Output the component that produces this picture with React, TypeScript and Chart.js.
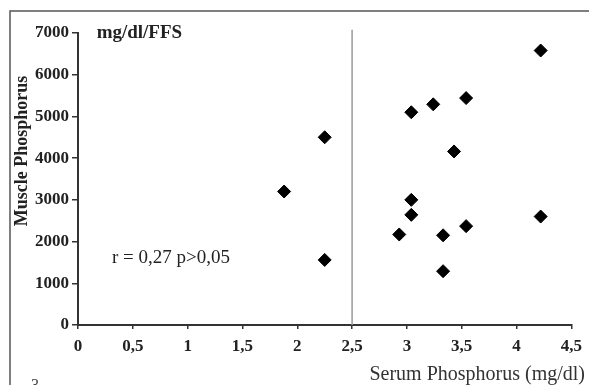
import React, { useEffect, useRef } from "react";
import { Chart, registerables } from "chart.js";

Chart.register(...registerables);

const serumPhosphorus = [4.22, 3.54, 3.24, 3.04, 2.25, 3.43, 1.88, 2.25, 3.04, 3.04, 2.93, 3.33, 3.54, 4.22, 3.33];
const musclePhosphorus = [6580, 5440, 5290, 5100, 4500, 4160, 3200, 1560, 3000, 2640, 2170, 2150, 2370, 2600, 1290];
const cutoffX = [2.5, 2.5];
const cutoffY = [0, 7080];
const xTicks = [0, 0.5, 1, 1.5, 2, 2.5, 3, 3.5, 4, 4.5];
const yTicks = [0, 1000, 2000, 3000, 4000, 5000, 6000, 7000];
const xTitle = "Serum Phosphorus (mg/dl)";
const yTitle = "Muscle Phosphorus";
const unitLabel = "mg/dl/FFS";
const statLabel = "r = 0,27 p>0,05";
const figNumber = "3";

const SERIF = "'Liberation Serif', 'Times New Roman', serif";

export default function App() {
  const ref = useRef<HTMLCanvasElement | null>(null);

  useEffect(() => {
    if (!ref.current) return;

    const textPlugin = {
      id: "texts",
      beforeDraw(chart: any) {
        const ctx = chart.ctx;
        ctx.save();
        ctx.fillStyle = "#ffffff";
        ctx.fillRect(0, 0, chart.width, chart.height);
        // frame
        ctx.strokeStyle = "#555";
        ctx.lineWidth = 1.5;
        ctx.beginPath();
        ctx.moveTo(10, chart.height);
        ctx.lineTo(10, 11);
        ctx.lineTo(chart.width, 11);
        ctx.stroke();
        ctx.restore();
      },
      afterDraw(chart: any) {
        const ctx = chart.ctx;
        const xs = chart.scales.x;
        const ys = chart.scales.y;
        ctx.save();
        ctx.fillStyle = "#222";
        ctx.textBaseline = "middle";
        ctx.textAlign = "left";
        ctx.font = `bold 19px ${SERIF}`;
        ctx.fillText(unitLabel, xs.getPixelForValue(0.17), ys.getPixelForValue(7000));
        ctx.font = `19px ${SERIF}`;
        ctx.fillText(statLabel, xs.getPixelForValue(0.31), ys.getPixelForValue(1600));
        // x title
        ctx.textAlign = "right";
        ctx.fillStyle = "#333";
        ctx.font = `20px ${SERIF}`;
        ctx.fillText(xTitle, chart.width - 4, chart.height - 10);
        // y title
        ctx.save();
        ctx.translate(22, ys.getPixelForValue(4170));
        ctx.rotate(-Math.PI / 2);
        ctx.textAlign = "center";
        ctx.fillStyle = "#222";
        ctx.font = `bold 18px ${SERIF}`;
        ctx.fillText(yTitle, 0, 0);
        ctx.restore();
        // figure number fragment
        ctx.textAlign = "left";
        ctx.textBaseline = "alphabetic";
        ctx.fillStyle = "#444";
        ctx.font = `16px ${SERIF}`;
        ctx.fillText(figNumber, 31, chart.height + 5);
        ctx.restore();
      },
    };

    const chart = new Chart(ref.current, {
      type: "scatter",
      data: {
        datasets: [
          {
            type: "line",
            data: cutoffX.map((x, i) => ({ x, y: cutoffY[i] })),
            borderColor: "#999",
            borderWidth: 1.5,
            pointRadius: 0,
            fill: false,
            clip: false,
          } as any,
          {
            data: serumPhosphorus.map((x, i) => ({ x, y: musclePhosphorus[i] })),
            pointStyle: "rectRot",
            pointRadius: 6.5,
            backgroundColor: "#000",
            borderColor: "#000",
            borderWidth: 1,
          },
        ],
      },
      plugins: [textPlugin],
      options: {
        animation: false,
        responsive: false,
        maintainAspectRatio: false,
        layout: { padding: { top: 33, right: 16, left: 0, bottom: 0 } },
        plugins: {
          legend: { display: false },
          tooltip: { enabled: false },
        },
        scales: {
          x: {
            type: "linear",
            min: 0,
            max: 4.5,
            afterBuildTicks: (s: any) => {
              s.ticks = xTicks.map((v) => ({ value: v }));
            },
            afterFit: (s: any) => {
              s.height = 60;
            },
            ticks: {
              color: "#222",
              padding: 7,
              font: { family: SERIF, size: 17, weight: "bold" },
              callback: (v: any) => String(v).replace(".", ","),
            },
            grid: {
              drawOnChartArea: false,
              drawTicks: true,
              tickLength: 4,
              color: "#333",
              lineWidth: 1.5,
            },
            border: { display: true, color: "#333", width: 2 },
          },
          y: {
            type: "linear",
            min: 0,
            max: 7000,
            afterBuildTicks: (s: any) => {
              s.ticks = yTicks.map((v) => ({ value: v }));
            },
            afterFit: (s: any) => {
              s.width = 78;
            },
            ticks: {
              color: "#222",
              padding: 3,
              font: { family: SERIF, size: 17, weight: "bold" },
              callback: (v: any) => String(v),
            },
            grid: {
              drawOnChartArea: false,
              drawTicks: true,
              tickLength: 6,
              color: "#333",
              lineWidth: 1.5,
            },
            border: { display: true, color: "#333", width: 2 },
          },
        },
      },
    });
    return () => chart.destroy();
  }, []);

  return (
    <div style={{ position: "fixed", left: 0, top: 0, width: 589, height: 385, background: "#fff" }}>
      <canvas ref={ref} width={589} height={385} style={{ display: "block", width: 589, height: 385 }} />
    </div>
  );
}
